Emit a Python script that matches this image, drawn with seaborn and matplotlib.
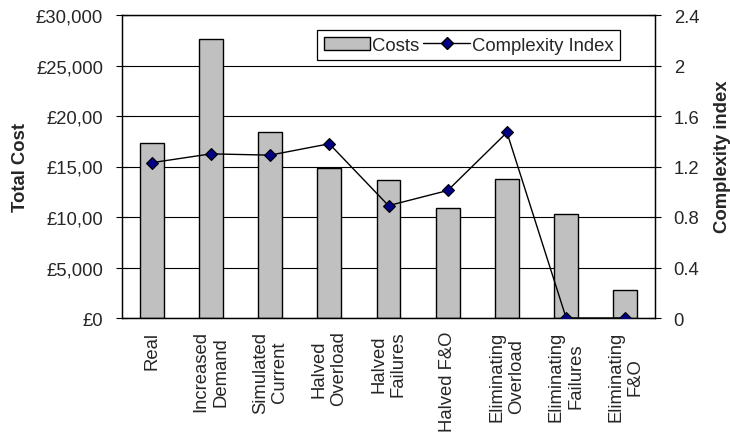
import numpy as np
import matplotlib
matplotlib.use("Agg")
import matplotlib.pyplot as plt
import seaborn as sns
from matplotlib.patches import Patch
from matplotlib.lines import Line2D

# Scenario data
categories = ["Real", "Increased\nDemand", "Simulated\nCurrent", "Halved\nOverload",
              "Halved\nFailures", "Halved F&O", "Eliminating\nOverload",
              "Eliminating\nFailures", "Eliminating\nF&O"]
costs = [17300, 27600, 18400, 14900, 13700, 10900, 13800, 10300, 2800]
complexity = [1.23, 1.30, 1.29, 1.38, 0.89, 1.01, 1.47, 0.0, 0.0]

cost_ticks = [0, 5000, 10000, 15000, 20000, 25000, 30000]
cost_tick_labels = ["£0", "£5,000", "£10,00", "£15,00", "£20,00", "£25,000", "£30,000"]
cx_ticks = [0, 0.4, 0.8, 1.2, 1.6, 2.0, 2.4]
cx_tick_labels = ["0", "0.4", "0.8", "1.2", "1.6", "2", "2.4"]

sns.set_style("white")
plt.rcParams["font.family"] = ["Liberation Sans", "DejaVu Sans"]
FS = 13.3

fig = plt.figure(figsize=(7.3, 4.39), dpi=100)
ax = fig.add_axes([122 / 730, 1 - 319 / 439, 533 / 730, 303 / 439])

x = np.arange(len(categories))
sns.barplot(x=x, y=costs, color="#C0C0C0", edgecolor="black", linewidth=1.0,
            width=0.405, saturation=1, ax=ax, zorder=2)
ax.set_xlim(-0.5, len(categories) - 0.5)
ax.set_ylim(0, 30000)
ax.set_yticks(cost_ticks)
ax.set_yticklabels(cost_tick_labels, fontsize=FS)
ax.yaxis.grid(True, color="black", linewidth=0.8)
ax.set_axisbelow(True)

# category labels at bar centres, crossing ticks at the boundaries
ax.set_xticks(x)
ax.set_xticklabels(categories, rotation=90, fontsize=FS, va="top", ha="center",
                   multialignment="center")
ax.tick_params(axis="x", which="major", length=0, pad=9)
ax.set_xticks(np.arange(-0.5, len(categories), 1.0), minor=True)
ax.tick_params(axis="x", which="minor", direction="inout", length=11, width=0.8,
               color="black")
ax.tick_params(axis="y", direction="inout", length=9, width=0.8, color="black", pad=9)
ax.set_xlabel("")
ax.set_ylabel("Total Cost", fontsize=FS, fontweight="bold")
ax.yaxis.label.set_va("center")
ax.yaxis.set_label_coords(-0.19, 0.5)
for s in ax.spines.values():
    s.set_color("black")
    s.set_linewidth(0.9)

ax2 = ax.twinx()
sns.lineplot(x=x, y=complexity, ax=ax2, color="black", linewidth=1.0,
             marker="D", markersize=6, markerfacecolor="#000080",
             markeredgecolor="black", markeredgewidth=0.8, zorder=3)
ax2.set_ylim(0, 2.4)
ax2.set_yticks(cx_ticks)
ax2.set_yticklabels(cx_tick_labels, fontsize=FS)
ax2.tick_params(axis="y", direction="inout", length=9, width=0.8, color="black", pad=9)
ax2.set_ylabel("Complexity index", fontsize=FS, fontweight="bold", rotation=90)
ax2.yaxis.label.set_va("center")
ax2.yaxis.set_label_coords(1.126, 0.535)
ax2.grid(False)
for s in ax2.spines.values():
    s.set_color("black")
    s.set_linewidth(0.9)

handles = [Patch(facecolor="#C0C0C0", edgecolor="black", linewidth=1.0),
           Line2D([0], [0], color="black", linewidth=1.0, marker="D", markersize=6,
                  markerfacecolor="#000080", markeredgecolor="black")]
leg = ax2.legend(handles, ["Costs", "Complexity Index"], ncol=2, loc="upper left",
                 bbox_to_anchor=(0.366, 0.950), borderaxespad=0, fontsize=FS,
                 handlelength=2.5, handletextpad=0.15, columnspacing=0.2,
                 borderpad=0.35, fancybox=False, framealpha=1, edgecolor="black")
leg.get_frame().set_linewidth(0.9)

fig.savefig("out.png", dpi=100)
